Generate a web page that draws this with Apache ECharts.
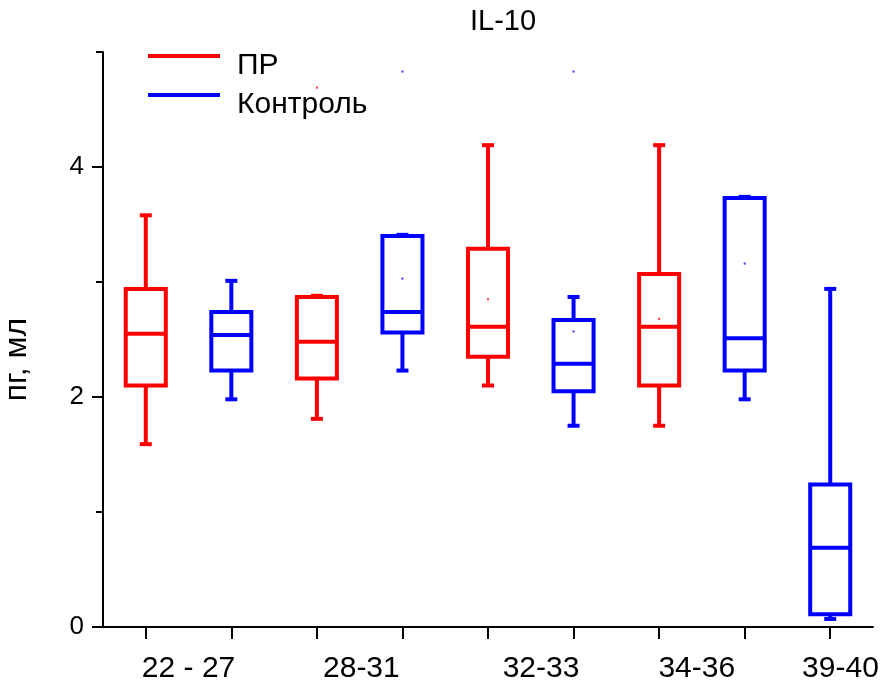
<!DOCTYPE html>
<html><head><meta charset="utf-8">
<script src="https://cdn.jsdelivr.net/npm/echarts@6/dist/echarts.min.js"></script>
<style>html,body{margin:0;padding:0;background:#fff}#chart{width:883px;height:684px}</style>
</head><body><div id="chart"></div>
<script>
const chartTitle = "IL-10";
const yAxisName = "пг, мл";
const seriesNames = ["ПР", "Контроль"];
const groupLabels = ["22 - 27", "28-31", "32-33", "34-36", "39-40"];
const groupLabelSlots = [0.5, 2.52, 4.62, 6.44, 8.12];
const boxSlots = [0, 1, 2, 3, 4, 5, 6, 7, 8];
const prSlots = [0, 2, 4, 6];
const controlSlots = [1, 3, 5, 7, 8];
// each box: [min, Q1, median, Q3, max]
const prBoxes = [
  [1.59, 2.10, 2.55, 2.94, 3.58],
  [1.81, 2.16, 2.48, 2.87, 2.88],
  [2.10, 2.35, 2.61, 3.29, 4.19],
  [1.75, 2.10, 2.61, 3.07, 4.19]
];
const controlBoxes = [
  [1.98, 2.23, 2.54, 2.74, 3.01],
  [2.23, 2.56, 2.74, 3.40, 3.41],
  [1.75, 2.05, 2.29, 2.67, 2.87],
  [1.98, 2.23, 2.51, 3.73, 3.74],
  [0.07, 0.11, 0.69, 1.24, 2.94]
];
const prMeans = [2.55, 2.48, 2.85, 2.68];
const controlMeans = [2.53, 3.03, 2.57, 3.16, 0.69];
const prOutlierSlots = [2];
const prOutliers = [4.69];
const controlOutlierSlots = [3, 5];
const controlOutliers = [4.83, 4.83];
const yMajorTicks = [0, 2, 4];
const yMinorTicks = [1, 3, 5];

const RED = '#ff0000', BLUE = '#0000ff';
const FONT = 'Liberation Sans, Arial, sans-serif';

function renderBox(params, api) {
  const x = api.value(0);
  const lo = api.coord([x, api.value(1)]);
  const q1 = api.coord([x, api.value(2)]);
  const med = api.coord([x, api.value(3)]);
  const q3 = api.coord([x, api.value(4)]);
  const hi = api.coord([x, api.value(5)]);
  const unit = api.size([1, 0])[0];
  const bw = unit * 0.468;
  const cw = unit * 0.14;
  const cx = med[0];
  const style = { stroke: api.visual('color'), fill: null, lineWidth: 4, lineCap: 'butt' };
  const line = (x1, y1, x2, y2) => ({ type: 'line', shape: { x1, y1, x2, y2 }, style });
  return {
    type: 'group',
    children: [
      line(cx, q3[1], cx, hi[1]),
      line(cx, q1[1], cx, lo[1]),
      line(cx - cw / 2, hi[1], cx + cw / 2, hi[1]),
      line(cx - cw / 2, lo[1], cx + cw / 2, lo[1]),
      { type: 'rect', shape: { x: cx - bw / 2, y: q3[1], width: bw, height: q1[1] - q3[1] }, style },
      line(cx - bw / 2, med[1], cx + bw / 2, med[1])
    ]
  };
}

const prData = prSlots.map((s, i) => [s].concat(prBoxes[i]));
const controlData = controlSlots.map((s, i) => [s].concat(controlBoxes[i]));
const prDots = prSlots.map((s, i) => [s, prMeans[i]]).concat(prOutlierSlots.map((s, i) => [s, prOutliers[i]]));
const controlDots = controlSlots.map((s, i) => [s, controlMeans[i]]).concat(controlOutlierSlots.map((s, i) => [s, controlOutliers[i]]));

const chart = echarts.init(document.getElementById('chart'));
chart.setOption({
  backgroundColor: '#fff',
  animation: false,
  title: {
    text: chartTitle, left: 470, top: 7, padding: 0,
    textStyle: { fontFamily: FONT, fontSize: 29, fontWeight: 'normal', color: '#000' }
  },
  legend: {
    orient: 'vertical', left: 148, top: 31, padding: 0, itemGap: -11,
    itemWidth: 72, itemHeight: 4,
    data: [
      { name: seriesNames[0], icon: 'rect', itemStyle: { color: RED } },
      { name: seriesNames[1], icon: 'rect', itemStyle: { color: BLUE } }
    ],
    formatter: '{t|{name}}',
    textStyle: {
      fontFamily: FONT, fontSize: 30, color: '#000',
      rich: { t: { fontFamily: FONT, fontSize: 30, color: '#000', lineHeight: 24, padding: [20, 0, 0, 12] } }
    }
  },
  grid: { left: 103, right: 10, top: 52, bottom: 57, containLabel: false, outerBoundsMode: 'none' },
  xAxis: {
    type: 'value', min: -0.5, max: 8.5, interval: 0.5,
    axisLine: { onZero: false, lineStyle: { color: '#000', width: 2 } },
    axisTick: { customValues: boxSlots, length: 12, lineStyle: { color: '#000', width: 2 } },
    axisLabel: {
      customValues: groupLabelSlots, margin: 27,
      fontFamily: FONT, fontSize: 30, color: '#000',
      formatter: function (v) {
        let best = 0;
        groupLabelSlots.forEach((p, i) => { if (Math.abs(p - v) < Math.abs(groupLabelSlots[best] - v)) best = i; });
        return groupLabels[best];
      }
    },
    splitLine: { show: false }
  },
  yAxis: [{
    type: 'value', min: 0, max: 5, interval: 1,
    name: yAxisName, nameLocation: 'middle', nameGap: 70, nameRotate: 90,
    nameTextStyle: { fontFamily: FONT, fontSize: 32, color: '#000', padding: [0, 40, 0, 0] },
    axisLine: { show: true, onZero: false, lineStyle: { color: '#000', width: 2 } },
    axisTick: { customValues: yMajorTicks, length: 11, lineStyle: { color: '#000', width: 2 } },
    axisLabel: { customValues: yMajorTicks, margin: 19, fontFamily: FONT, fontSize: 26, color: '#000' },
    splitLine: { show: false }
  }, {
    type: 'value', min: 0, max: 5, interval: 1, position: 'left',
    axisLine: { show: false, onZero: false },
    axisTick: { show: true, customValues: yMinorTicks, length: 7, lineStyle: { color: '#000', width: 2 } },
    axisLabel: { show: false },
    splitLine: { show: false }
  }],
  series: [
    { name: seriesNames[0], type: 'custom', renderItem: renderBox, itemStyle: { color: RED }, encode: { x: 0, y: [1, 2, 3, 4, 5] }, data: prData },
    { name: seriesNames[1], type: 'custom', renderItem: renderBox, itemStyle: { color: BLUE }, encode: { x: 0, y: [1, 2, 3, 4, 5] }, data: controlData },
    { name: 'prDots', type: 'scatter', symbol: 'rect', symbolSize: 2, itemStyle: { color: RED }, data: prDots, z: 3 },
    { name: 'controlDots', type: 'scatter', symbol: 'rect', symbolSize: 2, itemStyle: { color: BLUE }, data: controlDots, z: 3 }
  ]
});
</script></body></html>
